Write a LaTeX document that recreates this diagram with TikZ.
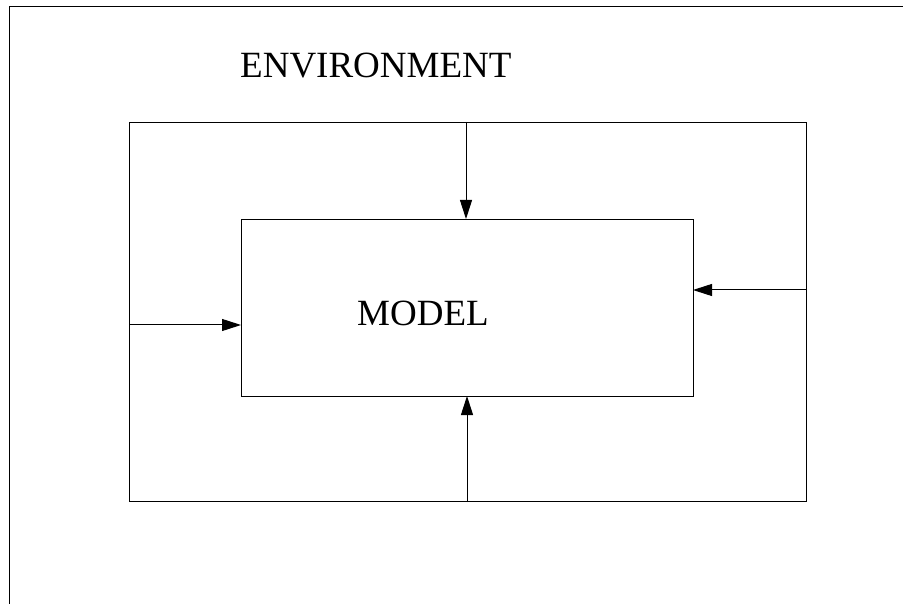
\documentclass[tikz,border=0pt]{standalone}
\usepackage{fontspec}
\setmainfont{Liberation Serif}
\usetikzlibrary{arrows.meta}
\begin{document}
\begin{tikzpicture}[x=1pt,y=-1pt,
  box/.style={draw,line width=1pt,inner sep=0pt,anchor=north west},
  arr/.style={line width=1pt,-{Triangle[length=19pt,width=12pt]}},
  lbl/.style={font=\fontsize{37}{44}\selectfont,anchor=base west,inner sep=0pt}]
\useasboundingbox (0,0) rectangle (903,604);
\draw[line width=1pt] (9,604) -- (9,7) -- (903,7);
\node[box,minimum width=677pt,minimum height=379pt] (env) at (129,122) {};
\node[box,minimum width=452pt,minimum height=177pt] (model) at (241,219) {};
\node[lbl] (envtxt) at (240,78) {ENVIRONMENT};
\node[lbl] (modeltxt) at (357,326) {MODEL};
\coordinate (topin) at (466,219);
\coordinate (rightin) at (693,290);
\coordinate (leftin) at (241,325);
\coordinate (botin) at (467,396);
\draw[arr] (env.north -| topin) -- (topin);
\draw[arr] (env.east |- rightin) -- (rightin);
\draw[arr] (env.west |- leftin) -- (leftin);
\draw[arr] (env.south -| botin) -- (botin);
\end{tikzpicture}
\end{document}
